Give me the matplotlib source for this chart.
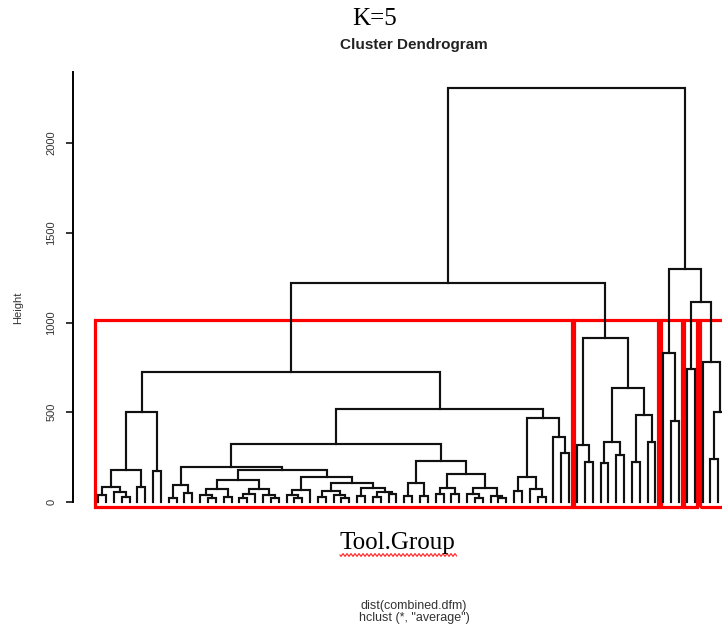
import numpy as np
import matplotlib
matplotlib.use("Agg")
import matplotlib.pyplot as plt
from matplotlib.patches import Rectangle
from matplotlib.lines import Line2D

plt.rcParams['font.family'] = ['Liberation Sans', 'DejaVu Sans']

L = 0  # a leaf; every merge is [height, left, right]

# five groups cut from the average-linkage tree
a1 = [500, [178, [84, [40, L, L], [55, L, [30, L, L]]], [85, L, L]], [170, L, L]]
n1a = [95, [25, L, L], [50, L, L]]
n1b1 = [122, [72, [40, L, [20, L, L]], [30, L, L]],
        [70, [45, [20, L, L], L], [40, L, [25, L, L]]]]
n1b2 = [140, [67, [40, L, [20, L, L]], L],
        [105, [60, [30, L, L], [40, L, [20, L, L]]],
         [80, [35, L, L], [55, [30, L, L], [45, L, L]]]]]
n2 = [228, [106, [35, L, L], [35, L, L]],
      [156, [78, [45, L, L], [45, L, L]], [80, [45, L, [25, L, L]], [35, L, [25, L, L]]]]]
r2 = [468, [140, [60, L, L], [75, L, [30, L, L]]], [362, L, [273, L, L]]]

group1 = [724, a1, [518, [323, [195, n1a, [178, n1b1, n1b2]], n2], r2]]
group2 = [914, [318, L, [224, L, L]],
          [634, [335, [216, L, L], [262, L, L]], [484, [224, L, L], [335, L, L]]]]
group3 = [830, L, [451, L, L]]
group4 = [740, L, L]
group5 = [780, L, [500, [240, L, L], L]]

tree = [2306, [1220, group1, group2], [1298, group3, [1114, group4, group5]]]
groups = [group1, group2, group3, group4, group5]
k = 5

yticks = [0, 500, 1000, 1500, 2000]

# walk the tree, leaves get positions 0, 1, 2, ...
segs = []
heights = []
spans = {}
count = [0]


def place(node):
    if not isinstance(node, list):
        x = count[0]
        count[0] += 1
        return x, 0.0, x, x
    h, left, right = node
    xl, hl, f1, _ = place(left)
    xr, hr, _, l2 = place(right)
    segs.append(([xl, xl, xr, xr], [hl, h, h, hr]))
    heights.append(h)
    spans[id(node)] = (f1, l2)
    return (xl + xr) / 2, h, f1, l2


place(tree)
n = count[0]

fig = plt.figure(figsize=(7.22, 6.25), dpi=100)
W, H = 722, 625
ymin, ymax = -25, 2398
xmin, xmax = -0.04 * (n - 1), (n - 1) * 1.04
step = 7.85
ax = fig.add_axes([73 / W, (H - 506.5) / H, (xmax - xmin) * step / W, (506.5 - 71.6) / H])

for xs, ys in segs:
    ax.plot(xs, ys, color='#111111', lw=1.55, solid_joinstyle='miter')

# rect.hclust style boxes
top = np.mean(sorted(heights, reverse=True)[k - 2:k])
for g in groups:
    first, last = spans[id(g)]
    ax.add_patch(Rectangle((first - 0.34, ymin), last - first + 0.67, top - ymin,
                           fill=False, edgecolor='#ff0000', lw=2.3, clip_on=False))

ax.set_xlim(xmin, xmax)
ax.set_ylim(ymin, ymax)
for s in ['top', 'right', 'bottom']:
    ax.spines[s].set_visible(False)
ax.spines['left'].set_bounds(0, ymax)
ax.spines['left'].set_linewidth(1.4)
ax.set_xticks([])
ax.set_yticks(yticks)
ax.set_yticklabels([str(t) for t in yticks], rotation=90, va='center')
ax.tick_params(axis='y', direction='out', length=5, width=1.1, labelsize=8,
               labelcolor='#333333', pad=7)

fig.text(375 / W, 1 - 19 / H, 'K=5', family='Liberation Serif', fontsize=18,
         ha='center', va='center')
fig.text(414 / W, 1 - 45 / H, 'Cluster Dendrogram', fontsize=11, fontweight='bold',
         ha='center', va='center', color='#222222')
fig.text(18 / W, 1 - 308 / H, 'Height', rotation=90, fontsize=8, color='#333333',
         ha='center', va='center')
fig.text(397 / W, 1 - 543 / H, 'Tool.Group', family='Liberation Serif', fontsize=18,
         ha='center', va='center')

# red spell-check squiggle under the label
sx = np.arange(340, 457, 0.5)
sy = 555 + 1.3 * np.sin(2 * np.pi * sx / 4)
fig.add_artist(Line2D(sx / W, 1 - sy / H, color='#ff2020', lw=0.8))

fig.text(414 / W, 1 - 606 / H, 'dist(combined.dfm)', fontsize=9, color='#333333',
         ha='center', va='center')
fig.text(414 / W, 1 - 618 / H, 'hclust (*, "average")', fontsize=9, color='#333333',
         ha='center', va='center')

fig.savefig('out.png', dpi=100)
